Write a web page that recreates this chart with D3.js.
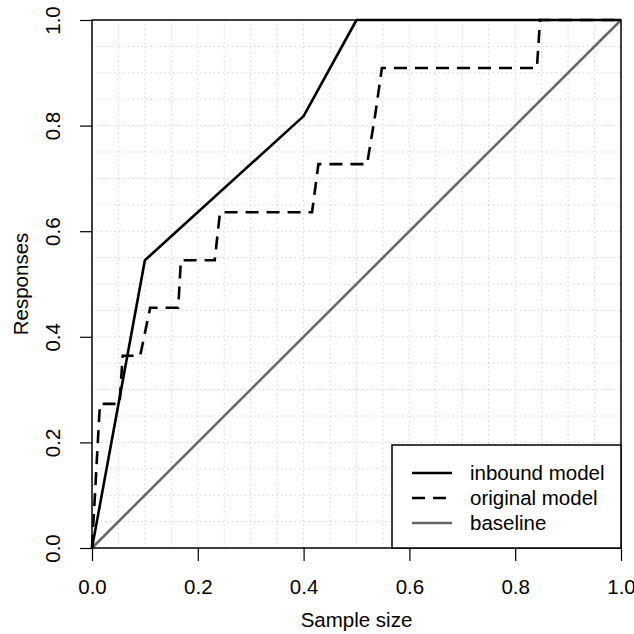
<!DOCTYPE html>
<html>
<head>
<meta charset="utf-8">
<script src="https://cdn.jsdelivr.net/npm/d3@7"></script>
<style>
  body { margin: 0; background: #fff; }
  text { font-family: "Liberation Sans", Arial, sans-serif; }
</style>
</head>
<body>
<div id="chart"></div>
<script>
// data
var seriesNames = ["inbound model", "original model", "baseline"];

var inboundX = [0, 0.1, 0.4, 0.5, 1.0];
var inboundY = [0, 0.545, 0.818, 1.0, 1.0];

var originalX = [0, 0.015, 0.052, 0.058, 0.091, 0.11, 0.163, 0.168, 0.232, 0.242, 0.416, 0.428, 0.52, 0.535, 0.548, 0.841, 0.847, 1.0];
var originalY = [0, 0.273, 0.273, 0.364, 0.364, 0.455, 0.455, 0.545, 0.545, 0.636, 0.636, 0.727, 0.727, 0.818, 0.909, 0.909, 1.0, 1.0];

var baselineX = [0, 1];
var baselineY = [0, 1];

var tickVals = [0, 0.2, 0.4, 0.6, 0.8, 1.0];

// margins and size
var margin = {top: 20, right: 13, bottom: 86, left: 92},
    width = 634 - margin.left - margin.right,
    height = 634 - margin.top - margin.bottom;

var svg = d3.select("#chart")
  .append("svg")
  .attr("width", 634)
  .attr("height", 634)
  .append("g")
  .attr("transform", "translate(" + margin.left + "," + margin.top + ")");

var x = d3.scaleLinear().domain([0, 1]).range([0, width]);
var y = d3.scaleLinear().domain([0, 1]).range([height, 0]);

// dotted grid every 0.05
var gridVals = d3.range(1, 20).map(d => d / 20);
svg.selectAll(".gx")
  .data(gridVals)
  .enter()
  .append("line")
  .attr("x1", d => x(d)).attr("x2", d => x(d))
  .attr("y1", 0).attr("y2", height)
  .attr("stroke", "#d3d3d3")
  .attr("stroke-width", 1)
  .attr("stroke-dasharray", "1.5,3");
svg.selectAll(".gy")
  .data(gridVals)
  .enter()
  .append("line")
  .attr("y1", d => y(d)).attr("y2", d => y(d))
  .attr("x1", 0).attr("x2", width)
  .attr("stroke", "#d3d3d3")
  .attr("stroke-width", 1)
  .attr("stroke-dasharray", "1.5,3");

var line = d3.line().x(d => x(d[0])).y(d => y(d[1]));

// baseline
svg.append("path")
  .datum(d3.zip(baselineX, baselineY))
  .attr("d", line)
  .attr("fill", "none")
  .attr("stroke", "#666666")
  .attr("stroke-width", 2.5);

// original model
svg.append("path")
  .datum(d3.zip(originalX, originalY))
  .attr("d", line)
  .attr("fill", "none")
  .attr("stroke", "black")
  .attr("stroke-width", 2.6)
  .attr("stroke-dasharray", "13,8");

// inbound model
svg.append("path")
  .datum(d3.zip(inboundX, inboundY))
  .attr("d", line)
  .attr("fill", "none")
  .attr("stroke", "black")
  .attr("stroke-width", 2.6)
  .attr("stroke-linejoin", "round");

// box
svg.append("rect")
  .attr("x", 0).attr("y", 0)
  .attr("width", width).attr("height", height)
  .attr("fill", "none")
  .attr("stroke", "black")
  .attr("stroke-width", 1.5);

// axes, R style
var xAxis = svg.append("g")
  .attr("transform", "translate(0," + height + ")")
  .call(d3.axisBottom(x).tickValues(tickVals).tickFormat(d3.format(".1f")).tickSize(13).tickPadding(18));
var yAxis = svg.append("g")
  .call(d3.axisLeft(y).tickValues(tickVals).tickFormat(d3.format(".1f")).tickSize(12).tickPadding(0));

[xAxis, yAxis].forEach(function(a) {
  a.select(".domain").remove();
  a.selectAll("line").attr("stroke", "black").attr("stroke-width", 1.2);
  a.selectAll("text").attr("font-size", 20.5).attr("fill", "black")
    .style("font-family", "'Liberation Sans', Arial, sans-serif");
});

// rotated y tick labels
yAxis.selectAll("text")
  .attr("x", null).attr("dy", null)
  .attr("text-anchor", "middle")
  .attr("transform", "translate(-32,0) rotate(-90)");

xAxis.selectAll("text").attr("dy", null).attr("y", 46);

// axis titles
svg.append("text")
  .attr("x", width / 2)
  .attr("y", height + 79)
  .attr("text-anchor", "middle")
  .attr("font-size", 20.5)
  .text("Sample size");

svg.append("text")
  .attr("transform", "translate(-64," + (height / 2) + ") rotate(-90)")
  .attr("text-anchor", "middle")
  .attr("font-size", 20.5)
  .text("Responses");

// legend
var legendW = 229, legendH = 103;
var legend = svg.append("g")
  .attr("transform", "translate(" + (width - legendW) + "," + (height - legendH) + ")");

legend.append("rect")
  .attr("width", legendW).attr("height", legendH)
  .attr("fill", "white")
  .attr("stroke", "black")
  .attr("stroke-width", 1.5);

var legendStyles = [
  {color: "black", dash: null, w: 2.6},
  {color: "black", dash: "13,8", w: 2.6},
  {color: "#666666", dash: null, w: 2.5}
];

seriesNames.forEach(function(name, i) {
  var ly = 28 + i * 25;
  legend.append("line")
    .attr("x1", 20).attr("x2", 60)
    .attr("y1", ly).attr("y2", ly)
    .attr("stroke", legendStyles[i].color)
    .attr("stroke-width", legendStyles[i].w)
    .attr("stroke-dasharray", legendStyles[i].dash);
  legend.append("text")
    .attr("x", 78)
    .attr("y", ly + 7)
    .attr("font-size", 20.5)
    .text(name);
});
</script>
</body>
</html>
